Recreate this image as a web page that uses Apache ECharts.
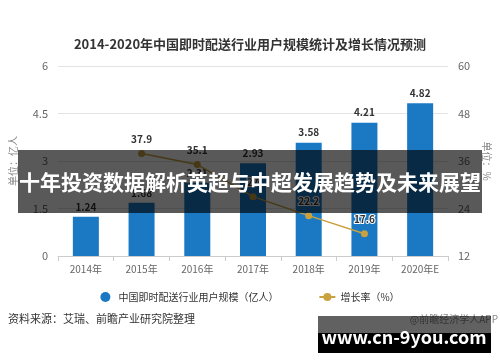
<!DOCTYPE html>
<html><head><meta charset="utf-8">
<script src="https://cdn.jsdelivr.net/npm/echarts@6/dist/echarts.min.js"></script>
<style>html,body{margin:0;padding:0;background:#fff}#c{width:500px;height:362px}</style>
</head><body><div id="c"></div>
<script>
var categories = ['2014年','2015年','2016年','2017年','2018年','2019年','2020年E'];
var users = [1.24, 1.68, 2.31, 2.93, 3.58, 4.21, 4.82];
var growth = [null, 37.9, 35.1, 27.0, 22.2, 17.6, null];
var leftTicks = {min: 0, max: 6, interval: 1.5};
var rightTicks = {min: 12, max: 60, interval: 12};
var titleText = '2014-2020年中国即时配送行业用户规模统计及增长情况预测';
var seriesNames = ['中国即时配送行业用户规模（亿人）', '增长率（%）'];
var sourceText = '资料来源：艾瑞、前瞻产业研究院整理';
var creditText = '@前瞻经济学人APP';
var bannerText = '十年投资数据解析英超与中超发展趋势及未来展望';
var siteText = 'www.cn-9you.com';

var font = '"Noto Sans CJK SC", "Noto Sans", sans-serif';
var chart = echarts.init(document.getElementById('c'), null, {renderer: 'canvas'});
chart.setOption({
  animation: false,
  textStyle: {fontFamily: font},
  title: {text: titleText, left: 'center', top: 33,
    textStyle: {fontSize: 13, fontWeight: 'bold', color: '#333', fontFamily: font}},
  grid: {left: 57, right: 47, top: 66, bottom: 106},
  legend: {top: 287, left: 'center', itemGap: 40, itemWidth: 16, itemHeight: 10,
    textStyle: {fontSize: 10, color: '#333', fontFamily: font},
    data: [{name: seriesNames[0], icon: 'circle'}, {name: seriesNames[1]}]},
  xAxis: {type: 'category', data: categories,
    axisLine: {lineStyle: {color: '#ccc'}}, axisTick: {show: true, lineStyle: {color: '#ccc'}},
    axisLabel: {color: '#666', fontSize: 10, margin: 8}},
  yAxis: [
    {type: 'value', min: leftTicks.min, max: leftTicks.max, interval: leftTicks.interval,
      name: '单位：亿人', nameLocation: 'middle', nameRotate: 90, nameGap: 40,
      nameTextStyle: {color: '#888', fontSize: 10},
      axisLine: {show: false}, axisTick: {show: false},
      axisLabel: {color: '#666', fontSize: 11, margin: 10},
      splitLine: {lineStyle: {color: '#e3e3e3'}}},
    {type: 'value', min: rightTicks.min, max: rightTicks.max, interval: rightTicks.interval,
      name: '单位：%', nameLocation: 'middle', nameRotate: -90, nameGap: 34,
      nameTextStyle: {color: '#888', fontSize: 10},
      axisLine: {show: false}, axisTick: {show: false},
      axisLabel: {color: '#666', fontSize: 11, margin: 10},
      splitLine: {show: false}}
  ],
  series: [
    {name: seriesNames[0], type: 'bar', data: users, barWidth: 26, yAxisIndex: 0,
      itemStyle: {color: '#1b79c4'},
      label: {show: true, position: 'top', color: '#333', fontWeight: 'bold', fontSize: 10, distance: 5}},
    {name: seriesNames[1], type: 'line', data: growth, yAxisIndex: 1,
      symbol: 'circle', symbolSize: 7, smooth: false,
      lineStyle: {color: '#c9a23f', width: 1.5}, itemStyle: {color: '#c9a23f'},
      label: {show: true, position: 'top', color: '#333', fontWeight: 'bold', fontSize: 10, distance: 6,
        textBorderColor: '#fff', textBorderWidth: 2}}
  ],
  graphic: [
    {type: 'text', left: 8, top: 313, z: 10,
      style: {text: sourceText, fontSize: 11, fontFamily: font, fill: '#333'}},
    {type: 'text', right: 2, top: 314, z: 10,
      style: {text: creditText, fontSize: 10, fontFamily: font, fill: '#888'}},
    {type: 'rect', shape: {x: 18, y: 150, width: 464, height: 63}, z: 100,
      style: {fill: 'rgba(0,0,0,0.65)'}},
    {type: 'text', x: 250, y: 182, z: 101,
      style: {text: bannerText, fill: '#fff', fontSize: 21, fontWeight: 'bold', fontFamily: font,
        align: 'center', verticalAlign: 'middle'}},
    {type: 'rect', shape: {x: 318, y: 316, width: 173, height: 17}, z: 100,
      style: {fill: 'rgba(0,0,0,0.62)'}},
    {type: 'rect', shape: {x: 318, y: 333, width: 173, height: 20}, z: 100,
      style: {fill: '#000'}},
    {type: 'text', x: 404, y: 337, z: 101,
      style: {text: siteText, fill: '#fff', fontSize: 18, fontWeight: 'bold', fontFamily: font,
        align: 'center', verticalAlign: 'middle'}}
  ]
});
</script></body></html>
